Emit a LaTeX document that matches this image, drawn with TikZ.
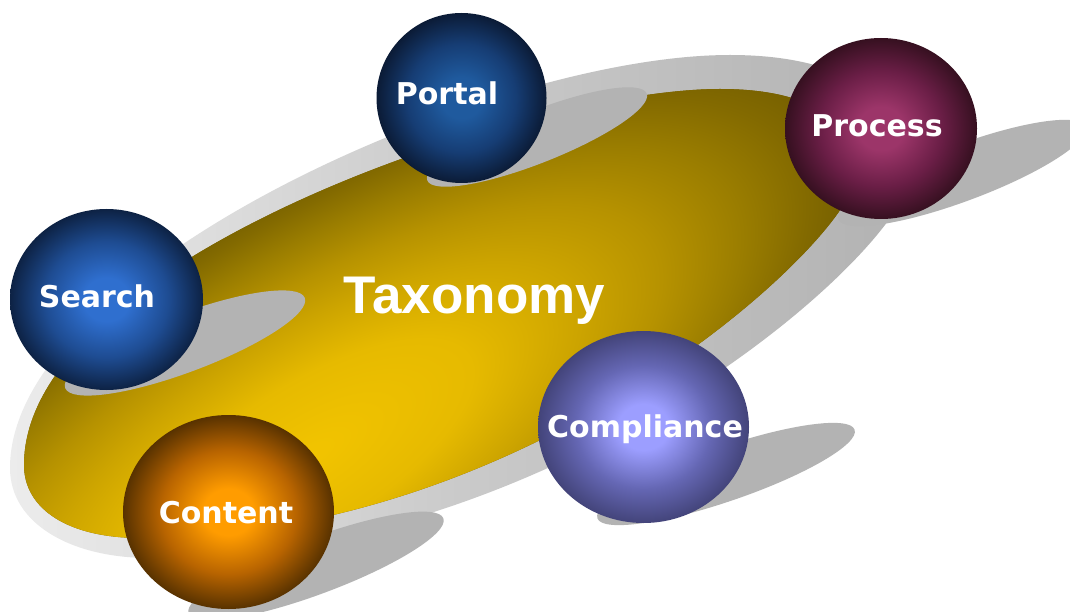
\documentclass[tikz,border=0pt]{standalone}
\usepackage{fontspec}
\newfontfamily\ballfont{DejaVu Sans}
\newfontfamily\titlefont{Liberation Sans}
\usetikzlibrary{shapes.geometric}

\definecolor{rimlight}{HTML}{ECECEC}
\definecolor{rimmid}{HTML}{CACACA}
\definecolor{rimdark}{HTML}{B2B2B2}
\definecolor{shadowgrey}{HTML}{B3B3B3}
\definecolor{gold0}{HTML}{F2C400}
\definecolor{gold1}{HTML}{E6BA00}
\definecolor{gold2}{HTML}{CCA400}
\definecolor{gold3}{HTML}{B69200}
\definecolor{gold4}{HTML}{9A7D00}
\definecolor{gold5}{HTML}{836A00}
\definecolor{gold6}{HTML}{766000}
\definecolor{searchhi}{HTML}{2F6FCF}
\definecolor{searchmid}{HTML}{1E4C92}
\definecolor{searchlo}{HTML}{0D2244}
\definecolor{portalhi}{HTML}{1F5A9E}
\definecolor{portalmid}{HTML}{163D74}
\definecolor{portallo}{HTML}{0B1B36}
\definecolor{processhi}{HTML}{9C3569}
\definecolor{processmid}{HTML}{6A1E46}
\definecolor{processlo}{HTML}{361020}
\definecolor{compliancehi}{HTML}{9C9EFF}
\definecolor{compliancemid}{HTML}{6567B4}
\definecolor{compliancelo}{HTML}{43447A}
\definecolor{contenthi}{HTML}{FF9C00}
\definecolor{contentmid}{HTML}{B86400}
\definecolor{contentlo}{HTML}{583200}

\pgfdeclareradialshading{goldglow}{\pgfpointorigin}{color(0bp)=(gold0); color(7.5bp)=(gold1); color(12.5bp)=(gold2); color(16.25bp)=(gold3); color(20bp)=(gold4); color(23bp)=(gold5); color(25bp)=(gold6); color(50bp)=(gold6)}
\newcommand{\ballglow}[4]{\pgfdeclareradialshading{#1}{\pgfpointorigin}{color(0bp)=(#2); color(6bp)=(#2); color(16bp)=(#3); color(25bp)=(#4); color(50bp)=(#4)}}
\ballglow{searchglow}{searchhi}{searchmid}{searchlo}
\ballglow{portalglow}{portalhi}{portalmid}{portallo}
\ballglow{processglow}{processhi}{processmid}{processlo}
\ballglow{complianceglow}{compliancehi}{compliancemid}{compliancelo}
\ballglow{contentglow}{contenthi}{contentmid}{contentlo}

\begin{document}
\begin{tikzpicture}[
    x=1pt, y=1pt,
    ball/.style={ellipse, inner sep=0pt, shade},
    balllabel/.style={anchor=base, text=white, font=\ballfont\bfseries\fontsize{30}{36}\selectfont},
    titlelabel/.style={anchor=base, text=white, font=\titlefont\bfseries\fontsize{53}{64}\selectfont},
    shadowfill/.style={fill=shadowgrey}
]
    \useasboundingbox (0,0) rectangle (1070,611);
    \clip (0,0) rectangle (1070,611);
    \fill[white] (0,0) rectangle (1070,611);

    % grey rim behind the disc
    \shade[left color=rimlight, right color=rimdark, middle color=rimmid]
        (10,143) .. controls (10,342) and (490,556) .. (730,556)
        .. controls (840,556) and (910,516) .. (910,436)
        .. controls (910,366) and (570,53) .. (150,53)
        .. controls (70,53) and (10,88) .. (10,143) -- cycle;

    % golden disc
    \begin{scope}
        \clip (24,146) .. controls (24,351) and (528,522) .. (720,522)
            .. controls (810,522) and (856,491) .. (856,436)
            .. controls (856,376) and (540,73) .. (140,73)
            .. controls (70,73) and (24,101) .. (24,146) -- cycle;
        \fill[gold6] (0,0) rectangle (1070,611);
        \begin{scope}[transform canvas={shift={(310,156)}, rotate=32, xscale=2.58}]
            \shade[shading=goldglow] (0,0) circle (240);
        \end{scope}
    \end{scope}
    \node[titlelabel] (taxonomy) at (474.5,298) {Taxonomy};

    % shadows of the balls
    \foreach \sx/\sy/\sa/\ra/\rb in {185/268/20.6/128/29, 537/474/21.6/118/26,
        962/438/20.5/132/28, 726/137/19/136/27, 316/45/20.5/136/28}
        \fill[shadowfill, rotate around={\sa:(\sx,\sy)}] (\sx,\sy) ellipse [x radius=\ra, y radius=\rb];

    % balls
    \node[ball, shading=searchglow, minimum width=193pt, minimum height=181pt] (search) at (106.5,311.5) {};
    \node[ball, shading=portalglow, minimum width=170pt, minimum height=170pt] (portal) at (461.5,513) {};
    \node[ball, shading=processglow, minimum width=192pt, minimum height=181pt] (process) at (881,482.5) {};
    \node[ball, shading=contentglow, minimum width=211pt, minimum height=194pt] (content) at (228.5,99) {};
    \node[ball, shading=complianceglow, minimum width=211pt, minimum height=192pt] (compliance) at (643.5,184) {};

    \node[balllabel] (searchlbl) at ([shift={(-9.5,-8.5)}]search.center) {Search};
    \node[balllabel] (portallbl) at ([shift={(-14.5,-7)}]portal.center) {Portal};
    \node[balllabel] (processlbl) at ([shift={(-4,-8.5)}]process.center) {Process};
    \node[balllabel] (contentlbl) at ([shift={(-2.5,-11)}]content.center) {Content};
    \node[balllabel] (compliancelbl) at ([shift={(1.5,-10)}]compliance.center) {Compliance};
\end{tikzpicture}
\end{document}
